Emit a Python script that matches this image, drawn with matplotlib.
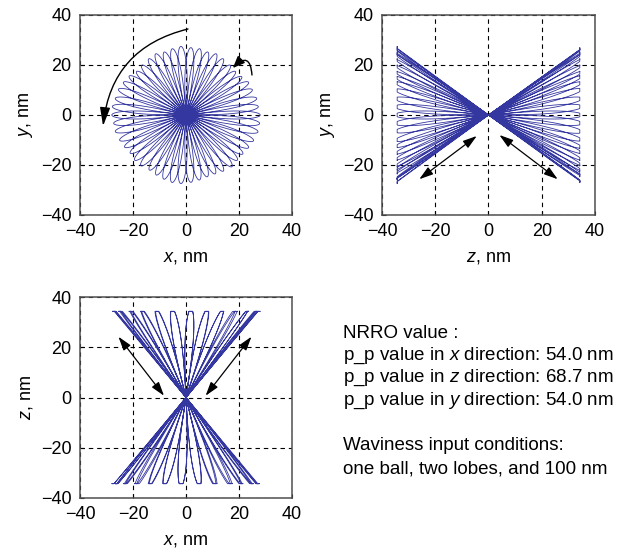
import numpy as np
import matplotlib.pyplot as plt

plt.rcParams['font.family'] = ['Liberation Sans', 'DejaVu Sans']
plt.rcParams['mathtext.fontset'] = 'custom'
plt.rcParams['mathtext.rm'] = 'Liberation Sans'
plt.rcParams['mathtext.it'] = 'Liberation Sans:italic'
plt.rcParams['font.size'] = 13

# petal tips: direction in the x-y plane (deg),
# length in the x-y plane (nm) and which side of z the petal goes to
petal_angle = [0, 7, 14, 22, 29, 36, 43, 50, 58, 65, 72, 79, 86, 94, 101,
               108, 115, 122, 130, 137, 144, 151, 158, 166, 173, 180, 187,
               194, 202, 209, 216, 223, 230, 238, 245, 252, 259, 266, 274,
               281, 288, 295, 302, 310, 317, 324, 331, 338, 346, 353]
petal_radius = [28.0, 27.5, 27.5, 27.0, 27.0, 26.0, 25.5, 26.0, 26.5, 27.0,
                26.5, 27.0, 27.0, 27.5, 27.0, 26.5, 27.0, 26.5, 26.0, 25.5,
                26.5, 27.0, 27.5, 27.5, 28.0, 28.0, 27.5, 27.5, 27.0, 26.5,
                26.0, 26.5, 26.5, 26.0, 26.5, 27.0, 27.5, 27.5, 27.0, 26.5,
                26.0, 26.0, 26.5, 27.0, 26.5, 26.5, 27.0, 27.5, 28.0, 28.0]
petal_side = [1, -1] * 25
z_tip = 34.3

text_lines = ["NRRO value :",
              "p_p value in $x$ direction: 54.0 nm",
              "p_p value in $z$ direction: 68.7 nm",
              "p_p value in $y$ direction: 54.0 nm",
              "",
              "Waviness input conditions:",
              "one ball, two lobes, and 100 nm"]

# build the 3-D trace petal by petal
spread = np.radians(14)
s = np.linspace(0, 1, 100)
xs, ys, zs = [], [], []
for ang, rad, side in zip(petal_angle, petal_radius, petal_side):
    r = rad * np.sqrt(np.sin(np.pi * s))
    phi = np.radians(ang) + spread * (0.5 - s)
    xs.append(r * np.cos(phi))
    ys.append(r * np.sin(phi))
    zs.append(side * z_tip * np.minimum(1, r / (0.97 * rad)))
x = np.concatenate(xs)
y = np.concatenate(ys)
z = np.concatenate(zs)

line_color = '#3537a0'
fig = plt.figure(figsize=(6.29, 5.49), dpi=100)
ax1 = fig.add_axes([0.1272, 0.6084, 0.3370, 0.3643])
ax2 = fig.add_axes([0.6073, 0.6084, 0.3386, 0.3643])
ax3 = fig.add_axes([0.1272, 0.0929, 0.3370, 0.3661])

panels = [(ax1, x, y, '$x$, nm', '$y$, nm'),
          (ax2, z, y, '$z$, nm', '$y$, nm'),
          (ax3, x, z, '$x$, nm', '$z$, nm')]
for ax, h, v, xl, yl in panels:
    ax.plot(h, v, color=line_color, lw=0.6)
    ax.set_xlim(-40, 40)
    ax.set_ylim(-40, 40)
    ax.set_xticks([-40, -20, 0, 20, 40])
    ax.set_yticks([-40, -20, 0, 20, 40])
    ax.grid(True, color='black', linestyle=(0, (4, 3.5)), linewidth=0.8)
    ax.tick_params(direction='in', length=3, pad=6)
    for sp in ax.spines.values():
        sp.set_color('#505050')
        sp.set_linewidth(1.1)
    ax.set_xlabel(xl, labelpad=6)
    ax.set_ylabel(yl, labelpad=4)

big = dict(arrowstyle='-|>,head_length=0.8,head_width=0.22', color='black',
           lw=1.0, mutation_scale=14, shrinkA=0, shrinkB=0)
small = dict(arrowstyle='-|>,head_length=0.6,head_width=0.25', color='black',
             lw=1.0, mutation_scale=12, shrinkA=0, shrinkB=0)
ax1.annotate('', xy=(-31.3, -4.4), xytext=(0.75, 34.4),
             arrowprops=dict(big, connectionstyle='arc3,rad=0.35'))
ax1.annotate('', xy=(17.7, 18.8), xytext=(24.9, 16),
             arrowprops=dict(small, connectionstyle='arc3,rad=1.1'))

arrow2 = dict(arrowstyle='<|-|>,head_length=0.7,head_width=0.22',
              color='black', lw=0.9, mutation_scale=12, shrinkA=0, shrinkB=0)
ax2.annotate('', xy=(-26, -25.7), xytext=(-4.4, -8.4), arrowprops=arrow2)
ax2.annotate('', xy=(26, -25.7), xytext=(4.1, -8.0), arrowprops=arrow2)
ax3.annotate('', xy=(-25.5, 24.2), xytext=(-8.3, 0.7), arrowprops=arrow2)
ax3.annotate('', xy=(24.7, 24.2), xytext=(7.4, 0.7), arrowprops=arrow2)

for i, t in enumerate(text_lines):
    if t:
        fig.text(0.545, 1 - (333 + 22.6 * i) / 549, t, va='center',
                 ha='left', fontsize=13.5)

fig.savefig('out.png', dpi=100)
